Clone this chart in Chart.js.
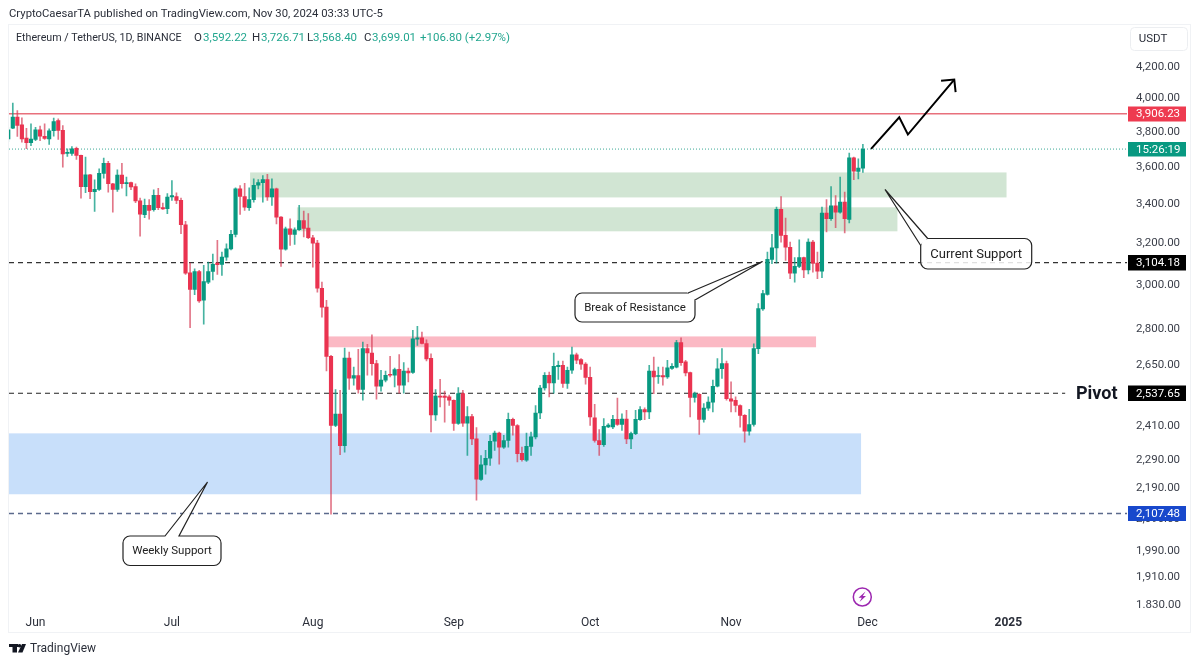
<!DOCTYPE html>
<html>
<head>
<meta charset="utf-8">
<title>ETHUSDT</title>
<script src="https://cdn.jsdelivr.net/npm/chart.js@4"></script>
<style>
  html, body { margin: 0; padding: 0; background: #fff; }
  canvas { display: block; }
</style>
</head>
<body>
<canvas id="chart" width="1200" height="664"></canvas>
<script>
// daily candles, May 26 to Nov 30 2024
const opens = [
  3758,3820,3886,3840,3762,3736,3754,3811,3773,3758,
  3805,3866,3807,3674,3674,3703,3663,3491,3555,3463,
  3475,3563,3618,3506,3475,3553,3507,3513,3491,3415,
  3343,3391,3369,3444,3379,3374,3435,3438,3417,3291,
  3056,2979,3062,2929,3012,3062,3102,3096,3131,3171,
  3243,3479,3438,3379,3421,3498,3512,3529,3435,3479,
  3330,3170,3271,3243,3266,3313,3274,3226,3199,2984,
  2898,2686,2414,2457,2340,2679,2597,2608,2552,2718,
  2700,2656,2565,2589,2613,2609,2633,2569,2626,2620,
  2758,2764,2740,2678,2454,2526,2526,2523,2510,2422,
  2536,2423,2448,2365,2221,2272,2295,2356,2386,2335,
  2359,2437,2414,2313,2288,2337,2372,2461,2558,2609,
  2578,2644,2649,2576,2629,2692,2673,2654,2600,2443,
  2359,2344,2409,2409,2437,2418,2438,2365,2384,2436,
  2474,2465,2626,2604,2608,2602,2637,2642,2744,2663,
  2620,2521,2533,2437,2480,2503,2565,2635,2656,2516,
  2510,2490,2452,2393,2418,2718,2890,2956,3120,3176,
  3370,3238,3179,3054,3086,3128,3070,3204,3102,3064,
  3351,3322,3389,3356,3408,3318,3650,3574,3592.22
];
const closes = [
  3811,3886,3836,3758,3736,3756,3811,3773,3760,3805,
  3860,3807,3672,3680,3701,3663,3491,3555,3463,3476,
  3563,3618,3506,3476,3553,3507,3512,3489,3415,3346,
  3391,3365,3444,3379,3372,3435,3443,3417,3291,3054,
  2979,3062,2926,3015,3062,3096,3094,3131,3171,3243,
  3479,3438,3382,3421,3498,3512,3529,3435,3479,3330,
  3170,3271,3243,3266,3313,3273,3226,3199,2984,2898,
  2686,2414,2457,2340,2679,2597,2608,2552,2718,2700,
  2656,2565,2589,2609,2609,2632,2569,2626,2618,2760,
  2764,2740,2675,2454,2526,2522,2521,2510,2422,2536,
  2423,2448,2365,2222,2272,2295,2356,2386,2335,2359,
  2437,2414,2311,2290,2338,2372,2461,2558,2609,2578,
  2645,2649,2576,2629,2692,2670,2654,2600,2446,2359,
  2344,2411,2416,2437,2418,2438,2365,2384,2437,2474,
  2465,2626,2602,2608,2602,2639,2645,2744,2660,2618,
  2521,2536,2437,2480,2503,2565,2635,2656,2516,2507,
  2490,2452,2393,2418,2718,2892,2959,3120,3176,3370,
  3238,3179,3054,3086,3128,3070,3204,3102,3064,3351,
  3322,3389,3356,3408,3322,3650,3575,3592,3699.01
];
const highs = [
  3824,3971,3926,3882,3820,3846,3826,3832,3846,3817,
  3880,3876,3836,3701,3714,3710,3665,3653,3558,3528,
  3588,3648,3629,3509,3583,3619,3542,3515,3506,3429,
  3424,3421,3474,3482,3403,3453,3524,3458,3429,3308,
  3102,3075,3067,3091,3107,3145,3213,3155,3196,3263,
  3484,3497,3509,3484,3533,3529,3551,3557,3533,3483,
  3333,3279,3322,3276,3391,3361,3348,3238,3213,3012,
  2929,2690,2552,2549,2721,2704,2642,2715,2746,2736,
  2777,2670,2629,2626,2686,2638,2693,2660,2638,2796,
  2814,2789,2756,2697,2552,2592,2546,2530,2512,2560,
  2549,2486,2456,2406,2305,2323,2378,2393,2390,2378,
  2461,2442,2418,2335,2386,2390,2490,2569,2620,2622,
  2700,2667,2667,2642,2725,2700,2677,2660,2642,2494,
  2399,2440,2421,2452,2519,2458,2471,2390,2471,2486,
  2481,2649,2683,2642,2642,2670,2656,2753,2764,2670,
  2622,2542,2536,2497,2523,2589,2677,2718,2667,2582,
  2523,2492,2455,2475,2739,2914,2974,3155,3243,3382,
  3438,3325,3204,3128,3216,3131,3221,3213,3155,3382,
  3421,3491,3443,3542,3461,3676,3653,3644,3726.71
];
const lows = [
  3742,3818,3772,3738,3701,3719,3748,3748,3754,3725,
  3773,3754,3597,3658,3663,3640,3429,3458,3426,3360,
  3470,3536,3461,3356,3465,3482,3441,3474,3405,3234,
  3327,3320,3361,3369,3370,3348,3417,3400,3246,3048,
  2808,2955,2919,2823,3005,3023,3048,3043,3115,3166,
  3230,3344,3365,3365,3408,3479,3408,3417,3391,3296,
  3086,3165,3188,3193,3263,3230,3221,3083,2966,2854,
  2626,2105,2410,2308,2317,2552,2569,2538,2510,2609,
  2609,2514,2546,2582,2602,2562,2538,2538,2582,2616,
  2732,2738,2667,2390,2433,2484,2427,2490,2396,2418,
  2411,2305,2344,2151,2218,2239,2270,2323,2274,2330,
  2335,2378,2282,2285,2284,2305,2365,2440,2549,2523,
  2538,2592,2560,2556,2616,2656,2632,2573,2414,2353,
  2305,2337,2406,2402,2414,2396,2347,2329,2380,2433,
  2436,2440,2536,2576,2569,2596,2632,2639,2649,2606,
  2446,2503,2381,2427,2471,2465,2562,2596,2510,2465,
  2465,2408,2353,2378,2412,2697,2884,2952,3099,3102,
  3204,3115,3028,3012,3080,3033,3051,3059,3028,3033,
  3255,3313,3276,3350,3250,3300,3528,3533,3568.40
];

// axes
const monthIndex = [6, 36, 67, 98, 128, 159, 189, 220];
const monthLabels = ['Jun', 'Jul', 'Aug', 'Sep', 'Oct', 'Nov', 'Dec', '2025'];
const priceTicks = [4200, 4000, 3800, 3600, 3400, 3200, 3000, 2800, 2650, 2530, 2410, 2290, 2190, 2090, 1990, 1910, 1830];
const priceTickLabels = ['4,200.00', '4,000.00', '3,800.00', '3,600.00', '3,400.00', '3,200.00', '3,000.00', '2,800.00', '2,650.00', '2,530.00', '2,410.00', '2,290.00', '2,190.00', '2,090.00', '1,990.00', '1,910.00', '1.830.00'];

// levels and zones, in candle index / price
const resistance = 3906.23;
const lastClose = 3699.01;
const level3104 = 3104.18;
const pivot = 2537.65;
const level2107 = 2107.48;
const zoneFrom = [53.2, 63.5, 70.1, 0];
const zoneTo = [219.6, 195.6, 177.7, 187.6];
const zoneTop = [3568, 3381, 2770, 2385];
const zoneBottom = [3433, 3258, 2724, 2171];
const zoneColors = ['#d1e5d3', '#d1e5d3', '#fbb9c4', '#c8dffa'];

const arrowX = [189.8, 196.0, 197.9, 208.1];
const arrowY = [3700, 3885, 3783, 4118];
const arrowHeadX = [205.2, 208.1, 208.4];
const arrowHeadY = [4111, 4118, 4039];

const GREEN = '#089981';
const RED = '#ea3350';
const FONT = 'Roboto, "Noto Sans", sans-serif';

const xMin = 0.164, xMax = 246.1;
const idx = opens.map((_, i) => i);
const barColors = idx.map(i => closes[i] >= opens[i] ? GREEN : RED);
const wickColors = idx.map(i => closes[i] >= opens[i] ? 'rgba(8,153,129,0.75)' : 'rgba(214,60,85,0.7)');

function hline(value, to, color, width, dash) {
  return {
    type: 'line', order: 5, data: [{x: xMin, y: value}, {x: to, y: value}],
    borderColor: color, borderWidth: width, borderDash: dash, pointRadius: 0
  };
}

function text(ctx, s, x, y, font, color, align) {
  ctx.font = font;
  ctx.fillStyle = color;
  ctx.textAlign = align || 'left';
  ctx.textBaseline = 'middle';
  ctx.fillText(s, x, y);
}

function badge(ctx, y0, y1, color, label) {
  ctx.fillStyle = color;
  ctx.fillRect(1128, y0, 58, y1 - y0);
  text(ctx, label, 1136, (y0 + y1) / 2 + 0.5, '11.5px ' + FONT, '#fff');
}

// speech bubble, tail gives the two base x values on the top edge and the tip
function bubble(ctx, x, y, w, h, tail, label, size) {
  const r = 7;
  ctx.beginPath();
  ctx.moveTo(x + r, y);
  if (tail) {
    ctx.lineTo(tail.a, y);
    ctx.lineTo(tail.tip[0], tail.tip[1]);
    ctx.lineTo(tail.b, y);
  }
  ctx.lineTo(x + w - r, y);
  ctx.arcTo(x + w, y, x + w, y + r, r);
  ctx.lineTo(x + w, y + h - r);
  ctx.arcTo(x + w, y + h, x + w - r, y + h, r);
  ctx.lineTo(x + r, y + h);
  ctx.arcTo(x, y + h, x, y + h - r, r);
  ctx.lineTo(x, y + r);
  ctx.arcTo(x, y, x + r, y, r);
  ctx.closePath();
  ctx.fillStyle = 'rgba(255,255,255,0.85)';
  ctx.strokeStyle = '#222';
  ctx.lineWidth = 1.2;
  ctx.fill();
  ctx.stroke();
  text(ctx, label, x + w / 2, y + h / 2 + 0.5, size + 'px ' + FONT, '#222', 'center');
}

const zonesPlugin = {
  id: 'zones',
  beforeDatasetsDraw(chart) {
    const {ctx, chartArea: a, scales: {x, y}} = chart;
    ctx.save();
    zoneFrom.forEach((from, i) => {
      const x0 = Math.max(x.getPixelForValue(from), a.left);
      const x1 = x.getPixelForValue(zoneTo[i]);
      const y0 = y.getPixelForValue(zoneTop[i]);
      const y1 = y.getPixelForValue(zoneBottom[i]);
      ctx.fillStyle = zoneColors[i];
      ctx.fillRect(x0, y0, x1 - x0, y1 - y0);
    });
    ctx.restore();
  }
};

const overlayPlugin = {
  id: 'overlay',
  afterDraw(chart) {
    const ctx = chart.ctx;
    ctx.save();

    // panel frame
    ctx.strokeStyle = '#f0f2f5';
    ctx.lineWidth = 1;
    ctx.strokeRect(8.5, 24.5, 1182, 608);

    // header texts
    text(ctx, 'CryptoCaesarTA published on TradingView.com, Nov 30, 2024 03:33 UTC-5', 9, 14, '11.3px ' + FONT, '#2a2e39');
    const hf = '11.5px ' + FONT;
    text(ctx, 'Ethereum / TetherUS, 1D, BINANCE', 16, 38, '10.7px ' + FONT, '#2a2e39');
    [['O', 194], ['H', 252], ['L', 307], ['C', 364]].forEach(p => text(ctx, p[0], p[1], 38, hf, '#2a2e39'));
    [['3,592.22', 203], ['3,726.71', 261], ['3,568.40', 313], ['3,699.01', 372], ['+106.80 (+2.97%)', 420]]
      .forEach(p => text(ctx, p[0], p[1], 38, hf, '#22a68f'));

    // USDT box
    ctx.strokeStyle = '#eceef1';
    ctx.beginPath();
    ctx.roundRect(1130.5, 27.5, 57, 23, 4);
    ctx.stroke();
    text(ctx, 'USDT', 1153, 39, '11.5px ' + FONT, '#2a2e39', 'center');

    // price labels
    badge(ctx, 106.5, 121.5, '#ee3b50', '3,906.23');
    badge(ctx, 142, 156.5, GREEN, '15:26:19');
    badge(ctx, 255, 270.5, '#000', '3,104.18');
    badge(ctx, 385.5, 401, '#000', '2,537.65');
    badge(ctx, 506, 521, '#1848cc', '2,107.48');
    text(ctx, 'Pivot', 1076, 394, 'bold 18px ' + FONT, '#131722');

    // callouts
    bubble(ctx, 123, 536, 98, 29.5, {a: 165, tip: [207.5, 482], b: 179}, 'Weekly Support', 11.5);

    bubble(ctx, 575, 293, 120, 29, null, 'Break of Resistance', 11.5);
    ctx.fillStyle = '#fff';
    ctx.beginPath();
    ctx.moveTo(686, 291);
    ctx.lineTo(696, 291);
    ctx.lineTo(696, 301);
    ctx.closePath();
    ctx.fill();
    ctx.strokeStyle = '#222';
    ctx.lineWidth = 1.2;
    ctx.beginPath();
    ctx.moveTo(688, 293);
    ctx.lineTo(762.5, 261.5);
    ctx.lineTo(695, 300);
    ctx.stroke();

    bubble(ctx, 920.7, 238.5, 111, 30.5, null, 'Current Support', 13);
    ctx.fillStyle = '#fff';
    ctx.beginPath();
    ctx.moveTo(919, 246);
    ctx.lineTo(919, 237);
    ctx.lineTo(929, 237);
    ctx.closePath();
    ctx.fill();
    ctx.strokeStyle = '#222';
    ctx.beginPath();
    ctx.moveTo(927.7, 238.5);
    ctx.lineTo(885, 189.5);
    ctx.lineTo(920.7, 245.5);
    ctx.stroke();

    // earnings icon on the time axis
    ctx.strokeStyle = '#9c27b0';
    ctx.lineWidth = 1.5;
    ctx.beginPath();
    ctx.arc(862.3, 597, 9, 0, Math.PI * 2);
    ctx.stroke();
    ctx.fillStyle = '#9c27b0';
    ctx.beginPath();
    ctx.moveTo(865.5, 591.5);
    ctx.lineTo(858.5, 597.8);
    ctx.lineTo(861.8, 597.8);
    ctx.lineTo(859.5, 602);
    ctx.lineTo(866, 596);
    ctx.lineTo(862.8, 596);
    ctx.closePath();
    ctx.fill();

    // TradingView mark
    ctx.fillStyle = '#131722';
    ctx.fillRect(9, 644, 9, 3);
    ctx.fillRect(12.5, 644, 4.5, 8.5);
    ctx.beginPath();
    ctx.arc(19.5, 645.8, 1.8, 0, Math.PI * 2);
    ctx.fill();
    ctx.beginPath();
    ctx.moveTo(22, 644);
    ctx.lineTo(26, 644);
    ctx.lineTo(22.5, 652.5);
    ctx.lineTo(18, 652.5);
    ctx.closePath();
    ctx.fill();
    text(ctx, 'TradingView', 30, 649, '12px ' + FONT, '#2a2e39');

    ctx.restore();
  }
};

new Chart(document.getElementById('chart'), {
  data: {
    datasets: [
      {
        type: 'bar', order: 2, grouped: false, barThickness: 1,
        data: idx.map(i => ({x: i, y: [lows[i], highs[i]]})),
        backgroundColor: wickColors
      },
      {
        type: 'bar', order: 1, grouped: false, barThickness: 3.5, minBarLength: 1,
        data: idx.map(i => ({x: i, y: [opens[i], closes[i]]})),
        backgroundColor: barColors
      },
      hline(resistance, xMax, '#e8707c', 1.3, []),
      hline(lastClose, xMax, '#3aa996', 1, [1, 2]),
      hline(level3104, xMax, '#333', 1.4, [5, 4]),
      hline(pivot, 232.5, '#222', 1.1, [5, 4]),
      hline(level2107, xMax, '#5b6a8c', 1.3, [5, 4]),
      {
        type: 'line', order: 0, data: arrowX.map((v, i) => ({x: v, y: arrowY[i]})),
        borderColor: '#000', borderWidth: 2, pointRadius: 0, borderJoinStyle: 'miter'
      },
      {
        type: 'line', order: 0, data: arrowHeadX.map((v, i) => ({x: v, y: arrowHeadY[i]})),
        borderColor: '#000', borderWidth: 2, pointRadius: 0, borderJoinStyle: 'miter'
      }
    ]
  },
  options: {
    responsive: false,
    animation: false,
    devicePixelRatio: 1,
    layout: {padding: {left: 9, top: 50.5, right: 9, bottom: 31.5}},
    plugins: {legend: {display: false}, tooltip: {enabled: false}, title: {display: false}},
    scales: {
      x: {
        type: 'linear', min: xMin, max: xMax, offset: false,
        grid: {display: false, drawTicks: false}, border: {display: false},
        afterFit: s => { s.height = 24; },
        afterBuildTicks: s => { s.ticks = monthIndex.map(v => ({value: v})); },
        ticks: {
          autoSkip: false, maxRotation: 0, padding: 7, color: '#2a2e39',
          font: c => ({family: FONT, size: 12, weight: c.index === 7 ? 'bold' : 'normal'}),
          callback: (v) => monthLabels[monthIndex.indexOf(v)]
        }
      },
      y: {
        type: 'logarithmic', position: 'right', min: 1820, max: 4307,
        grid: {display: false, drawTicks: false}, border: {display: false},
        afterFit: s => { s.width = 64; },
        afterBuildTicks: s => { s.ticks = priceTicks.map(v => ({value: v})); },
        ticks: {
          autoSkip: false, padding: 9, color: '#3a3e49',
          font: {family: FONT, size: 11.5},
          callback: (v) => priceTickLabels[priceTicks.indexOf(v)]
        }
      }
    }
  },
  plugins: [zonesPlugin, overlayPlugin]
});
</script>
</body>
</html>
